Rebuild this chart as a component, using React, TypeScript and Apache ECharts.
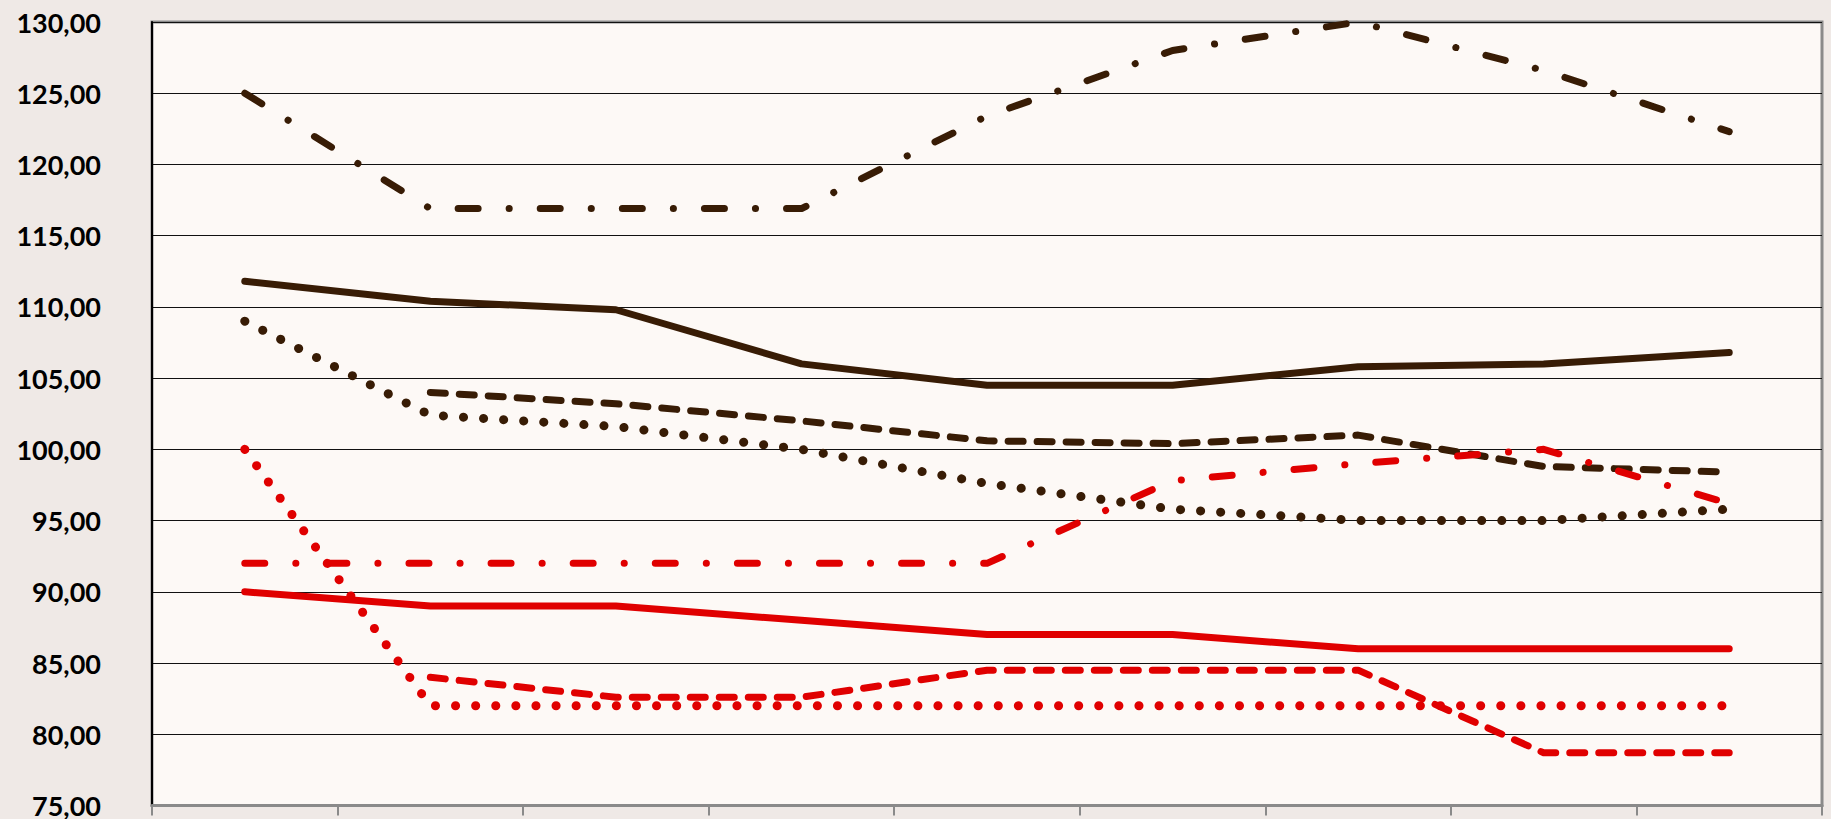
import React, { useEffect, useRef } from "react";
import * as echarts from "echarts";

const categories = ["1", "2", "3", "4", "5", "6", "7", "8", "9"];
const yTicks = { min: 75, max: 130, interval: 5 };

const darkSolid = [111.8, 110.4, 109.8, 106.0, 104.5, 104.5, 105.8, 106.0, 106.8];
const darkDashDot = [125.0, 116.9, 116.9, 116.9, 123.4, 128.0, 130.0, 126.6, 122.3];
const darkDashed = [null, 104.0, 103.2, 102.0, 100.6, 100.4, 101.0, 98.8, 98.4];
const darkDotted = [109.0, 102.4, 101.6, 100.0, 97.6, 95.8, 95.0, 95.0, 95.8];
const redSolid = [90.0, 89.0, 89.0, 88.0, 87.0, 87.0, 86.0, 86.0, 86.0];
const redDashDot = [92.0, 92.0, 92.0, 92.0, 92.0, 97.8, 99.0, 100.0, 96.2];
const redDashed = [null, 84.0, 82.6, 82.6, 84.5, 84.5, 84.5, 78.7, 78.7];
const redDotted = [100.0, 82.0, 82.0, 82.0, 82.0, 82.0, 82.0, 82.0, 82.0];

const DARK = "#381c05";
const RED = "#e00000";

const DASH = [15, 14];
const DASHDOT = [20, 31, 0.1, 31];
const DOT = [0.1, 20];

function mk(name: string, data: (number | null)[], color: string, type: any, width = 7) {
  return {
    name,
    type: "line",
    data,
    showSymbol: false,
    symbol: "none",
    lineStyle: { color, width, type, cap: "round", join: "round" },
  };
}

export default function App() {
  const ref = useRef<HTMLDivElement>(null);
  useEffect(() => {
    const chart = echarts.init(ref.current!, null, { renderer: "svg" });
    chart.setOption({
      animation: false,
      backgroundColor: "#efe9e6",
      grid: {
        left: 152,
        top: 22,
        right: 9,
        bottom: 7,
        show: true,
        backgroundColor: "#fdf9f6",
        borderColor: "#8a8a8a",
        borderWidth: 3,
      },
      xAxis: {
        type: "category",
        data: categories,
        boundaryGap: true,
        axisLine: { show: true, lineStyle: { color: "#8a8a8a", width: 3 } },
        axisTick: { show: true, length: 10, lineStyle: { color: "#8a8a8a", width: 2 } },
        axisLabel: { show: false },
        splitLine: { show: false },
      },
      yAxis: {
        type: "value",
        min: yTicks.min,
        max: yTicks.max,
        interval: yTicks.interval,
        axisLine: { show: true, lineStyle: { color: "#000", width: 2 } },
        axisTick: { show: false },
        splitLine: { show: true, lineStyle: { color: "#111", width: 1 } },
        axisLabel: {
          margin: 51,
          fontFamily: "Lato",
          fontWeight: "bold",
          fontSize: 27,
          color: "#000",
          formatter: (v: number) => v.toFixed(2).replace(".", ","),
        },
      },
      series: [
        mk("darkDashDot", darkDashDot, DARK, DASHDOT),
        mk("darkSolid", darkSolid, DARK, "solid"),
        mk("darkDashed", darkDashed, DARK, DASH),
        mk("darkDotted", darkDotted, DARK, DOT, 9),
        mk("redDashDot", redDashDot, RED, DASHDOT),
        mk("redSolid", redSolid, RED, "solid"),
        mk("redDashed", redDashed, RED, DASH),
        mk("redDotted", redDotted, RED, DOT, 9),
      ],
    });
    return () => chart.dispose();
  }, []);
  return (
    <div
      ref={ref}
      style={{ position: "fixed", left: 0, top: 0, width: 1831, height: 819 }}
    />
  );
}
